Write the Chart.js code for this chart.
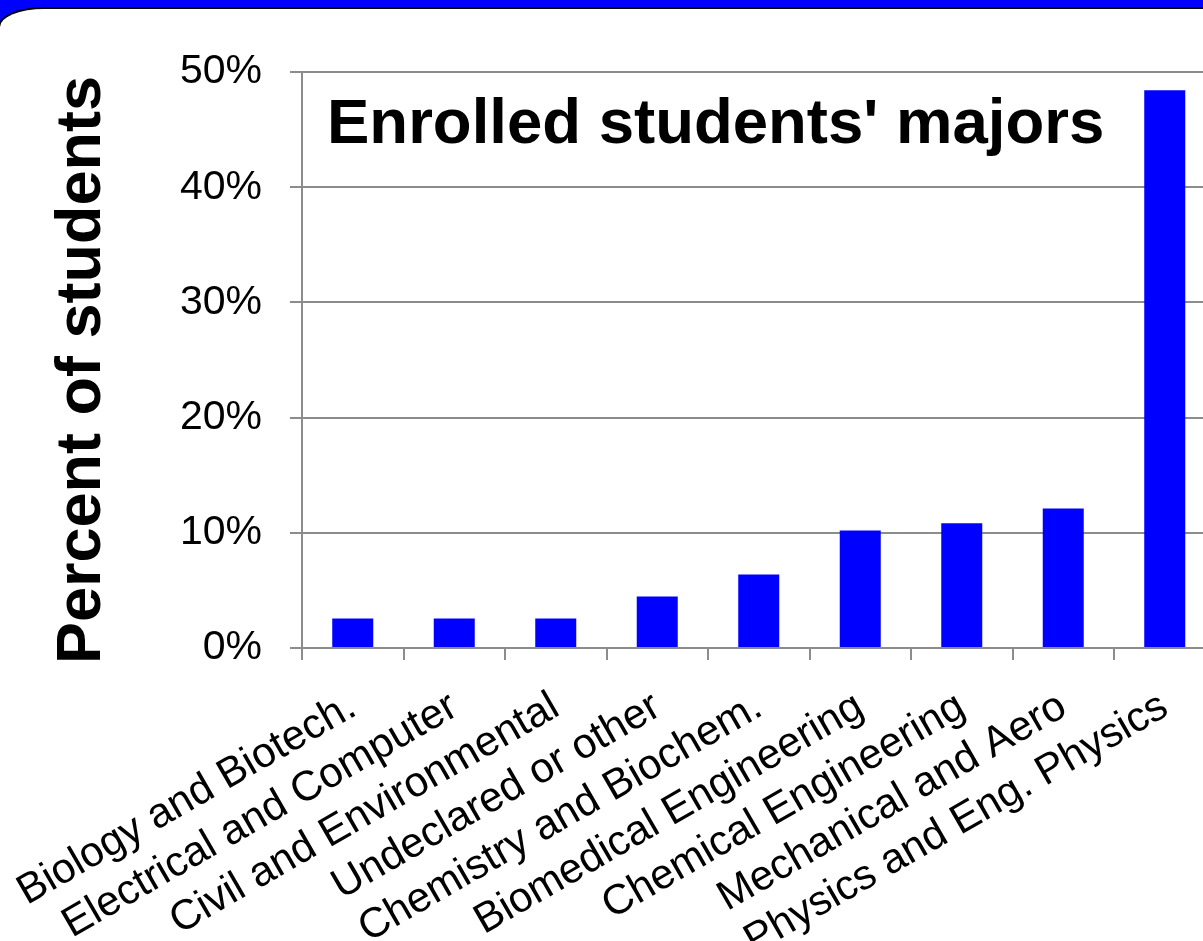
<!DOCTYPE html>
<html>
<head>
<meta charset="utf-8">
<title>Enrolled students' majors</title>
<script src="https://cdn.jsdelivr.net/npm/chart.js@4.4.1/dist/chart.umd.min.js"></script>
<style>
    html, body { margin: 0; padding: 0; width: 1203px; height: 941px; overflow: hidden; background: #0000ff; }
    #panel {
        position: absolute; top: 7px; left: -2px; right: 0; bottom: 0;
        background: #ffffff;
        border-top: 2px solid #000000; border-left: 2px solid #000000;
        border-top-left-radius: 46px 20px;
    }
    #majorsChart { position: absolute; top: 0; left: 0; }
</style>
</head>
<body>
<div id="panel"></div>
<canvas id="majorsChart" width="1260" height="941"></canvas>
<script>
let majors = [
    "Biology and Biotech.",
    "Electrical and Computer",
    "Civil and Environmental",
    "Undeclared or other",
    "Chemistry and Biochem.",
    "Biomedical Engineering",
    "Chemical Engineering",
    "Mechanical and Aero",
    "Physics and Eng. Physics"
];
let percents = [2.55, 2.55, 2.55, 4.46, 6.37, 10.19, 10.83, 12.10, 48.41];
let percentTicks = [0, 10, 20, 30, 40, 50];

let fontFamily = "'Liberation Sans', Arial, Helvetica, sans-serif";
let axisGrey = "#8c8c8c";

Chart.defaults.font.family = fontFamily;
Chart.defaults.color = "#000000";

// chart title inside the plot, y-axis title down the left side
const titles = {
    id: "titles",
    afterDraw(chart) {
        let ctx = chart.ctx;
        let area = chart.chartArea;
        ctx.save();
        ctx.fillStyle = "#000000";
        ctx.font = "bold 63.5px " + fontFamily;
        ctx.textAlign = "left";
        ctx.textBaseline = "alphabetic";
        ctx.fillText("Enrolled students' majors", area.left + 25, area.top + 71);

        ctx.font = "bold 63px " + fontFamily;
        ctx.translate(area.left - 219, (area.top + area.bottom) / 2 + 10);
        ctx.rotate(-Math.PI / 2);
        ctx.textAlign = "center";
        ctx.textBaseline = "middle";
        ctx.fillText("Percent of students", 0, 0);
        ctx.restore();
    }
};

let ctx = document.getElementById("majorsChart").getContext("2d");
window.majorsChart = new Chart(ctx, {
    type: "bar",
    data: {
        labels: majors,
        datasets: [{
            data: percents,
            backgroundColor: "#0000ff",
            borderWidth: 0,
            barPercentage: 0.404,
            categoryPercentage: 1
        }]
    },
    options: {
        responsive: false,
        animation: false,
        devicePixelRatio: 1,
        layout: { padding: { top: 72, right: 44.5, bottom: 0, left: 0 } },
        plugins: {
            legend: { display: false },
            tooltip: { enabled: false }
        },
        scales: {
            x: {
                grid: {
                    offset: true,
                    drawOnChartArea: false,
                    drawTicks: true,
                    tickLength: 12,
                    color: axisGrey,
                    lineWidth: 2
                },
                border: { color: axisGrey, width: 2 },
                ticks: {
                    autoSkip: false,
                    minRotation: 30,
                    maxRotation: 30,
                    padding: 22,
                    labelOffset: 0,
                    color: "#000000",
                    font: { size: 42 }
                },
                afterFit: function (scale) {
                    // long slanted labels may run off the left edge, like the slide does
                    scale.height = 293;
                    scale.paddingLeft = 0;
                    scale.paddingRight = 0;
                }
            },
            y: {
                min: percentTicks[0],
                max: percentTicks[percentTicks.length - 1],
                afterBuildTicks: function (scale) {
                    scale.ticks = percentTicks.map(v => ({ value: v }));
                },
                grid: {
                    drawTicks: true,
                    tickLength: 12,
                    color: axisGrey,
                    lineWidth: 2
                },
                border: { color: axisGrey, width: 2 },
                ticks: {
                    padding: 28,
                    color: "#000000",
                    font: { size: 41 },
                    callback: v => v + "%"
                },
                afterFit: function (scale) { scale.width = 302; }
            }
        }
    },
    plugins: [titles]
});
</script>
</body>
</html>
